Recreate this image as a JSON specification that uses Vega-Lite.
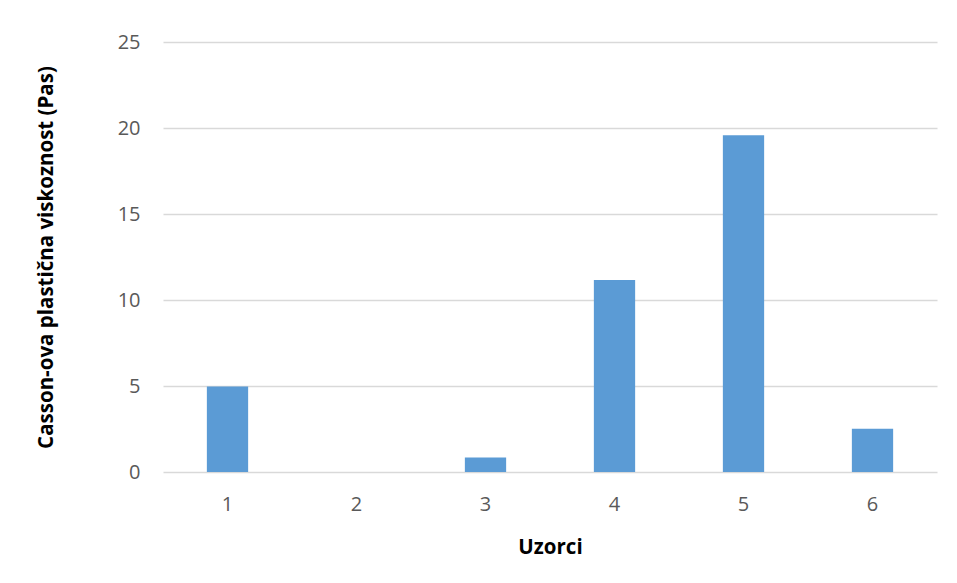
{
  "$schema": "https://vega.github.io/schema/vega-lite/v6.json",
  "autosize": "none",
  "width": 774,
  "height": 430,
  "padding": {"left": 163, "top": 42, "right": 20, "bottom": 111},
  "background": "white",
  "data": {
    "values": [
      {"uzorak": "1", "v": 4.97},
      {"uzorak": "2", "v": 0},
      {"uzorak": "3", "v": 0.84},
      {"uzorak": "4", "v": 11.17},
      {"uzorak": "5", "v": 19.58},
      {"uzorak": "6", "v": 2.51}
    ]
  },
  "mark": {"type": "bar", "color": "#5b9bd5"},
  "encoding": {
    "x": {
      "field": "uzorak",
      "type": "ordinal",
      "scale": {"paddingInner": 0.68, "paddingOuter": 0.34},
      "axis": {
        "title": "Uzorci",
        "labelAngle": 0,
        "ticks": false,
        "domain": false,
        "labelPadding": 22,
        "labelFontSize": 20,
        "labelColor": "#595959",
        "labelFont": "Open Sans",
        "titleFont": "Open Sans",
        "titleFontSize": 20.5,
        "titleFontWeight": "bold",
        "titleColor": "#000000",
        "titlePadding": 23
      }
    },
    "y": {
      "field": "v",
      "type": "quantitative",
      "scale": {"domain": [0, 25]},
      "axis": {
        "title": "Casson-ova plastična viskoznost (Pas)",
        "values": [0, 5, 10, 15, 20, 25],
        "ticks": false,
        "domain": false,
        "gridColor": "#d9d9d9",
        "gridWidth": 1.3,
        "labelPadding": 23,
        "labelFontSize": 20,
        "labelColor": "#595959",
        "labelFont": "Open Sans",
        "titleFont": "Open Sans",
        "titleFontSize": 20.5,
        "titleFontWeight": "bold",
        "titleColor": "#000000",
        "titlePadding": 61
      }
    }
  },
  "config": {"view": {"stroke": null}}
}
